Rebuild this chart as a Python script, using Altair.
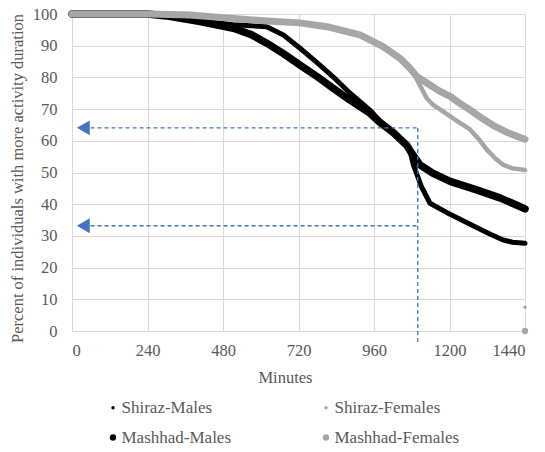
import altair as alt
import pandas as pd

series = ["Shiraz-Males", "Shiraz-Females", "Mashhad-Males", "Mashhad-Females"]
series_colors = ["#000000", "#a6a6a6", "#000000", "#a6a6a6"]
line_widths = [5, 4.5, 7.5, 7]
dot_sizes = [12, 12, 40, 40]

shiraz_m_x = [0, 120, 240, 300, 407, 513, 570, 619, 672, 725, 780, 830, 884, 947, 979, 1021, 1064, 1074, 1085, 1111, 1138, 1202, 1275, 1330, 1371, 1400, 1440]
shiraz_m_y = [100, 100, 100, 99.3, 97.8, 96.6, 96.3, 96.0, 93.4, 89.2, 84.6, 80.2, 75.0, 69.7, 66.2, 62.8, 58.8, 57.0, 52.5, 45.5, 40.3, 36.8, 33.2, 30.5, 28.7, 28.0, 27.7]

mashhad_m_x = [0, 120, 240, 300, 407, 513, 570, 619, 672, 725, 780, 830, 884, 947, 979, 1021, 1064, 1074, 1106, 1148, 1202, 1286, 1360, 1400, 1440]
mashhad_m_y = [100, 100, 100, 99.4, 97.6, 95.5, 93.5, 90.8, 87.5, 83.9, 80.2, 76.6, 72.8, 68.7, 65.8, 62.6, 58.6, 57.0, 52.4, 49.7, 47.2, 44.5, 42.0, 40.3, 38.5]

shiraz_f_x = [0, 120, 240, 375, 500, 620, 725, 820, 915, 947, 990, 1020, 1045, 1075, 1090, 1106, 1127, 1148, 1191, 1220, 1265, 1295, 1318, 1345, 1371, 1400, 1440]
shiraz_f_y = [100, 100, 100, 99.7, 98.7, 97.8, 97.2, 95.8, 93.4, 91.8, 89.6, 87.6, 85.8, 82.8, 80.5, 77.5, 73.5, 71.3, 68.5, 66.5, 63.6, 60.3, 57.3, 54.5, 52.4, 51.3, 50.8]

mashhad_f_x = [0, 120, 240, 375, 500, 620, 725, 820, 915, 947, 990, 1020, 1045, 1075, 1096, 1138, 1170, 1202, 1233, 1265, 1300, 1340, 1380, 1420, 1440]
mashhad_f_y = [100, 100, 100, 99.7, 98.7, 97.8, 97.2, 95.8, 93.4, 91.8, 89.6, 87.6, 85.8, 82.8, 80.3, 77.6, 75.6, 74.0, 71.8, 69.8, 67.3, 64.8, 62.8, 61.2, 60.5]

# isolated final markers at 1440 minutes
end_series = ["Shiraz-Females", "Mashhad-Females"]
end_x = [1440, 1440]
end_y = [7.5, 0]

# annotation guide (dashed lines with arrows)
guide_minute = 1099
guide_levels = [64.1, 33.2]
guide_start = 59
arrow_minute = 36
guide_bottom = -3.5

x_ticks = [0, 240, 480, 720, 960, 1200, 1440]
y_ticks = [0, 10, 20, 30, 40, 50, 60, 70, 80, 90, 100]

rows = []
for name, xs, ys in [
    ("Shiraz-Males", shiraz_m_x, shiraz_m_y),
    ("Shiraz-Females", shiraz_f_x, shiraz_f_y),
    ("Mashhad-Males", mashhad_m_x, mashhad_m_y),
    ("Mashhad-Females", mashhad_f_x, mashhad_f_y),
]:
    for i, (a, b) in enumerate(zip(xs, ys)):
        rows.append({"series": name, "minutes": a, "pct": b, "idx": i})
lines_df = pd.DataFrame(rows)
points_df = pd.DataFrame({"series": end_series, "minutes": end_x, "pct": end_y})

hguide_df = pd.DataFrame({"x": [guide_start] * 2, "x2": [guide_minute] * 2, "y": guide_levels})
vguide_df = pd.DataFrame({"x": [guide_minute], "y": [guide_bottom], "y2": [guide_levels[0]]})
arrow_df = pd.DataFrame({"x": [arrow_minute] * 2, "y": guide_levels})

FONT = "Liberation Serif"
TXT = "#595959"
BLUE = "#4472c4"

xscale = alt.Scale(domain=[0, 1440], nice=False, zero=False)
yscale = alt.Scale(domain=[0, 100], nice=False)

x_axis = alt.Axis(values=x_ticks, format="d", title="Minutes", titleX=213, titleY=46,
                  titleBaseline="middle", labelPadding=11, labelOverlap=False)
y_axis = alt.Axis(values=y_ticks, format="d",
                  title="Percent of individuals  with more activity duration",
                  titleX=-55, titleY=164, titleAngle=270, titleBaseline="middle", titleAlign="center",
                  labelPadding=15, labelOverlap=False)

legend = alt.Legend(orient="none", legendX=32.5, legendY=385, columns=2, columnPadding=86,
                    direction="horizontal",
                    rowPadding=12, labelOffset=0, symbolType="circle", title=None,
                    labelFont=FONT, labelFontSize=17, labelColor=TXT, symbolStrokeWidth=0)

X = alt.X("minutes:Q", scale=xscale, axis=x_axis)
Y = alt.Y("pct:Q", scale=yscale, axis=y_axis)


def line_layer(names):
    return alt.Chart(lines_df).transform_filter(
        alt.FieldOneOfPredicate(field="series", oneOf=names)
    ).mark_line(strokeCap="round", strokeJoin="round").encode(
        x=X, y=Y,
        color=alt.Color("series:N", scale=alt.Scale(domain=series, range=series_colors), legend=None),
        strokeWidth=alt.StrokeWidth("series:N", scale=alt.Scale(type="ordinal", domain=series, range=line_widths), legend=None),
        order="idx:Q",
    )


black_lines = line_layer(["Shiraz-Males", "Mashhad-Males"])
gray_lines = line_layer(["Shiraz-Females", "Mashhad-Females"])

points = alt.Chart(points_df).mark_point(filled=True, opacity=1, shape="circle", strokeWidth=0).encode(
    x=X, y=Y,
    color=alt.Color("series:N", scale=alt.Scale(domain=series, range=series_colors), legend=legend),
    size=alt.Size("series:N", scale=alt.Scale(type="ordinal", domain=series, range=dot_sizes), legend=legend),
)

hguides = alt.Chart(hguide_df).mark_rule(color=BLUE, strokeWidth=1.3, strokeDash=[4, 3]).encode(
    x=alt.X("x:Q", scale=xscale, axis=x_axis), x2="x2:Q", y=alt.Y("y:Q", scale=yscale, axis=y_axis)
)
vguide = alt.Chart(vguide_df).mark_rule(color=BLUE, strokeWidth=1.3, strokeDash=[4, 3]).encode(
    x=alt.X("x:Q", scale=xscale, axis=x_axis), y=alt.Y("y:Q", scale=yscale, axis=y_axis), y2="y2:Q"
)
arrows = alt.Chart(arrow_df).mark_point(shape="triangle-left", filled=True, opacity=1, size=220,
                                        color=BLUE).encode(
    x=alt.X("x:Q", scale=xscale, axis=x_axis), y=alt.Y("y:Q", scale=yscale, axis=y_axis)
)

chart = alt.layer(black_lines, gray_lines, points, hguides, vguide, arrows).resolve_scale(
    color="independent", size="independent", strokeWidth="independent"
).properties(
    width=453, height=317,
    padding={"left": 72, "top": 14, "right": 20, "bottom": 121},
    autosize=alt.AutoSizeParams(type="none"),
    background="white",
).configure_view(stroke=None).configure_axis(
    grid=True, gridColor="#d9d9d9", gridWidth=1, domain=False, ticks=False,
    labelFont=FONT, labelFontSize=16.5, labelColor=TXT,
    titleFont=FONT, titleFontSize=16.5, titleColor=TXT, titleFontWeight="normal",
)

chart.save("out.html", embed_options={"renderer": "svg", "actions": False})
